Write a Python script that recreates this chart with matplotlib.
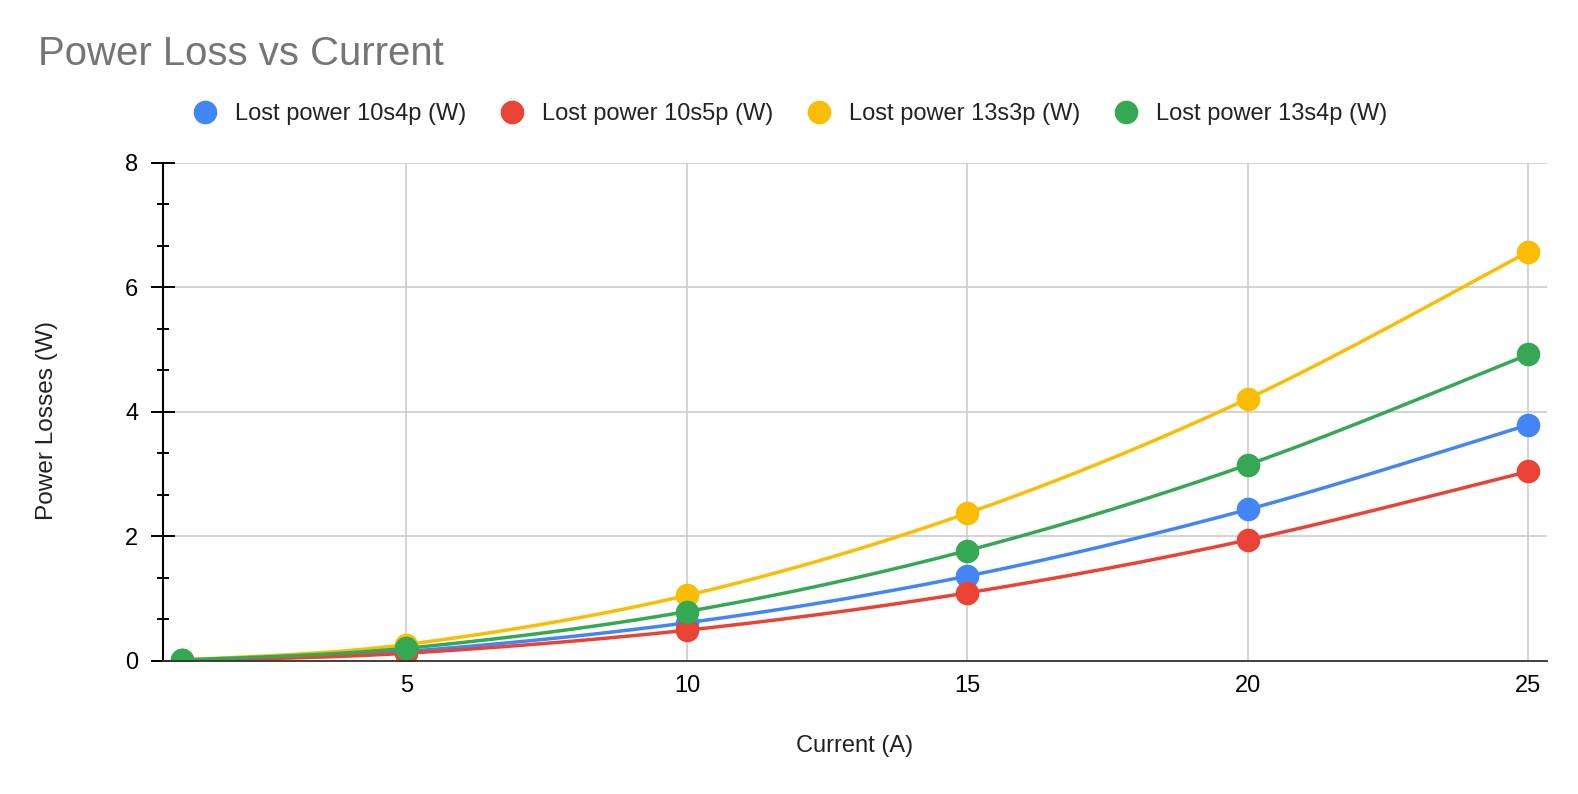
import numpy as np
import matplotlib.pyplot as plt
from matplotlib.lines import Line2D
from matplotlib.ticker import FixedLocator

plt.rcParams['font.family'] = ['Liberation Sans', 'DejaVu Sans']

# data
current = [1, 5, 10, 15, 20, 25]
loss_10s4p = [0.01, 0.15, 0.61, 1.36, 2.43, 3.79]
loss_10s5p = [0.00, 0.12, 0.49, 1.09, 1.94, 3.04]
loss_13s3p = [0.01, 0.26, 1.05, 2.37, 4.21, 6.57]
loss_13s4p = [0.01, 0.20, 0.79, 1.77, 3.15, 4.92]

series_names = ['Lost power 10s4p (W)', 'Lost power 10s5p (W)',
                'Lost power 13s3p (W)', 'Lost power 13s4p (W)']
series_values = [loss_10s4p, loss_10s5p, loss_13s3p, loss_13s4p]
colors = ['#4285F4', '#EA4335', '#FBBC04', '#34A853']

y_ticks = [0, 2, 4, 6, 8]
x_ticks = [5, 10, 15, 20, 25]


def smooth(xs, ys, n=40):
    # catmull-rom curve through the points, only used to draw the line
    p = np.column_stack([xs, ys]).astype(float)
    p = np.vstack([p[0], p, p[-1]])
    t = np.linspace(0, 1, n)[:, None]
    h00 = 2 * t**3 - 3 * t**2 + 1
    h10 = t**3 - 2 * t**2 + t
    h01 = -2 * t**3 + 3 * t**2
    h11 = t**3 - t**2
    parts = []
    for i in range(1, len(p) - 2):
        m1 = (p[i + 1] - p[i - 1]) / 2
        m2 = (p[i + 2] - p[i]) / 2
        seg = h00 * p[i] + h10 * m1 + h01 * p[i + 1] + h11 * m2
        parts.append(seg if i == 1 else seg[1:])
    out = np.vstack(parts)
    return out[:, 0], out[:, 1]


fig = plt.figure(figsize=(15.78, 7.94), dpi=100)
ax = fig.add_axes([163 / 1578, 1 - 660.7 / 794,
                   (1547 - 163) / 1578, (660.7 - 162.7) / 794])

for k, (vals, col) in enumerate(zip(series_values, colors)):
    sx, sy = smooth(current, vals)
    ax.plot(sx, sy, color=col, lw=2.5, zorder=3 + k * 2, solid_capstyle='round')
    ax.plot(current, vals, 'o', color=col, ms=17, mec='none', zorder=4 + k * 2)

ax.set_xlim(0.66, 25.33)
ax.set_ylim(0, 8)
ax.set_xticks(x_ticks)
ax.set_yticks(y_ticks)
ax.yaxis.set_minor_locator(FixedLocator([v for v in np.arange(0, 8.01, 2 / 3)
                                         if abs(v / 2 - round(v / 2)) > 0.01]))

ax.grid(True, which='major', color='#cccccc', lw=1.2, zorder=0)
ax.set_axisbelow(True)

for s in ['top', 'right']:
    ax.spines[s].set_visible(False)
ax.spines['left'].set_color('black')
ax.spines['left'].set_linewidth(1.5)
ax.spines['left'].set_zorder(20)
ax.spines['bottom'].set_color('#333333')
ax.spines['bottom'].set_linewidth(1.3)
ax.spines['bottom'].set_zorder(20)

ax.tick_params(axis='y', which='major', direction='inout', length=16.6,
               width=1.4, pad=9.5, labelsize=17, colors='black')
ax.tick_params(axis='y', which='minor', direction='inout', length=8,
               width=1.4, colors='black')
ax.tick_params(axis='x', which='major', length=0, pad=10.5, labelsize=17,
               colors='black')

fig.text(38 / 1578, 1 - 65 / 794, 'Power Loss vs Current', fontsize=28.9,
         color='#757575', ha='left', va='baseline')
fig.text(855 / 1578, 1 - 752 / 794, 'Current (A)', fontsize=17,
         color='#222222', ha='center', va='baseline')
fig.text(47 / 1578, 1 - 420 / 794, 'Power Losses (W)', fontsize=17.6,
         color='#222222', ha='center', va='center', rotation=90)

handles = [Line2D([], [], ls='none', marker='o', ms=17, mec='none', color=c)
           for c in colors]
fig.legend(handles, series_names, loc='center', ncol=4, frameon=False,
           bbox_to_anchor=(0.501, 1 - 114 / 794), fontsize=17,
           handlelength=1, handletextpad=0.77, columnspacing=1.44,
           labelcolor='#222222')

fig.savefig('out.png', dpi=100)
